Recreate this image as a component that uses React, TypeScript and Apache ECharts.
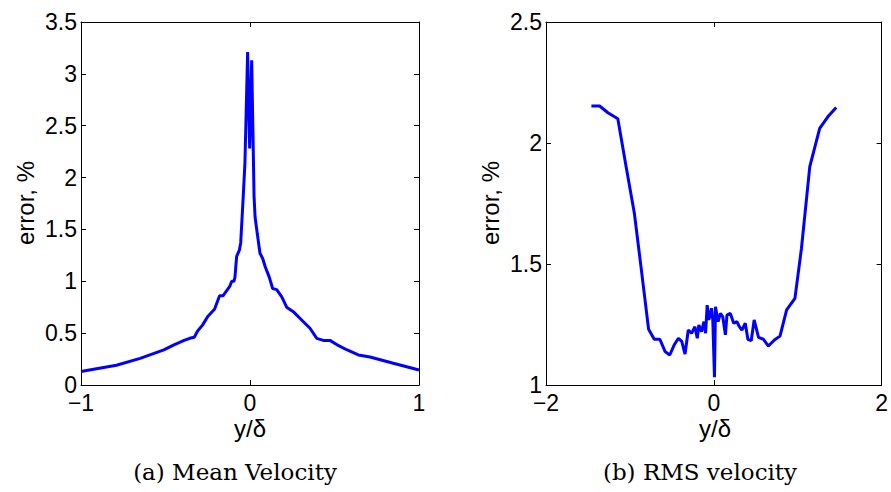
import React, { useEffect, useRef } from "react";
import * as echarts from "echarts";

// (a) Mean velocity error
const meanX = [-1.0, -0.9, -0.79, -0.65, -0.51, -0.45, -0.39, -0.357, -0.33, -0.31, -0.28, -0.25, -0.21, -0.18, -0.16, -0.12, -0.108, -0.095, -0.089, -0.079, -0.063, -0.055, -0.04, -0.03, -0.014, -0.002, 0.01, 0.024, 0.03, 0.043, 0.059, 0.075, 0.09, 0.114, 0.134, 0.158, 0.188, 0.217, 0.256, 0.316, 0.355, 0.395, 0.434, 0.473, 0.513, 0.572, 0.641, 0.71, 0.848, 1.0];
const meanY = [0.13, 0.16, 0.19, 0.257, 0.338, 0.386, 0.43, 0.45, 0.46, 0.52, 0.58, 0.66, 0.73, 0.86, 0.86, 0.95, 1.0, 1.0, 1.04, 1.24, 1.3, 1.37, 1.82, 2.14, 3.21, 2.28, 3.13, 1.82, 1.62, 1.46, 1.27, 1.22, 1.14, 1.04, 0.93, 0.92, 0.85, 0.75, 0.707, 0.61, 0.547, 0.45, 0.43, 0.43, 0.39, 0.34, 0.29, 0.27, 0.21, 0.145];

// (b) RMS velocity error
const rmsX = [-1.459, -1.361, -1.262, -1.144, -1.045, -0.947, -0.868, -0.777, -0.71, -0.643, -0.58, -0.525, -0.473, -0.422, -0.382, -0.343, -0.304, -0.264, -0.225, -0.197, -0.178, -0.146, -0.118, -0.098, -0.079, -0.059, -0.027, -0.012, 0.008, 0.02, 0.051, 0.079, 0.107, 0.138, 0.157, 0.197, 0.237, 0.276, 0.304, 0.335, 0.375, 0.406, 0.446, 0.481, 0.533, 0.592, 0.651, 0.722, 0.789, 0.868, 0.967, 1.045, 1.144, 1.262, 1.361, 1.459];
const rmsY = [2.153, 2.153, 2.125, 2.1, 1.902, 1.71, 1.489, 1.23, 1.189, 1.189, 1.138, 1.124, 1.165, 1.193, 1.18, 1.128, 1.227, 1.214, 1.241, 1.193, 1.248, 1.22, 1.262, 1.214, 1.33, 1.269, 1.317, 1.269, 1.032, 1.323, 1.262, 1.296, 1.282, 1.207, 1.289, 1.296, 1.255, 1.262, 1.241, 1.227, 1.255, 1.189, 1.183, 1.269, 1.197, 1.189, 1.161, 1.186, 1.202, 1.31, 1.358, 1.565, 1.902, 2.06, 2.109, 2.147];

const captionA = "(a) Mean Velocity";
const captionB = "(b) RMS velocity";
const xName = "y/δ";
const yName = "error, %";

const fmt = (v: number) => (v < 0 ? "\u2212" + String(-v) : String(v));

export default function App() {
  const ref = useRef<HTMLDivElement>(null);
  useEffect(() => {
    if (!ref.current) return;
    const chart = echarts.init(ref.current, null, { renderer: "svg" });
    const font = "'Liberation Sans', Arial, sans-serif";
    const axisLine = { show: true, onZero: false, lineStyle: { color: "#000", width: 1 } };
    const tick = { show: true, inside: true, length: 5, lineStyle: { color: "#000" } };
    const label = { show: true, color: "#000", fontFamily: font, fontSize: 23, formatter: fmt };
    const mkX = (gi: number, min: number, max: number, interval: number, pos: string, showLabel: boolean) => ({
      type: "value", gridIndex: gi, min, max, interval, position: pos,
      axisLine, axisTick: tick, splitLine: { show: false },
      axisLabel: showLabel ? { ...label, margin: 6 } : { show: false },
    });
    const mkY = (gi: number, min: number, max: number, interval: number, pos: string, showLabel: boolean) => ({
      type: "value", gridIndex: gi, min, max, interval, position: pos,
      axisLine, axisTick: tick, splitLine: { show: false },
      axisLabel: showLabel ? { ...label, margin: 4 } : { show: false },
    });
    const meanData = meanX.map((x, i) => [x, meanY[i]]);
    const rmsData = rmsX.map((x, i) => [x, rmsY[i]]);
    const nameFont = `24px ${font}`;
    const capFont = `23px 'DejaVu Serif', serif`;
    chart.setOption({
      animation: false,
      backgroundColor: "#fff",
      grid: [
        { left: 81, top: 22, width: 338, height: 363 },
        { left: 546, top: 22, width: 338, height: 363 },
      ],
      xAxis: [
        mkX(0, -1, 1, 1, "bottom", true),
        mkX(0, -1, 1, 1, "top", false),
        mkX(1, -2, 2, 2, "bottom", true),
        mkX(1, -2, 2, 2, "top", false),
      ],
      yAxis: [
        mkY(0, 0, 3.5, 0.5, "left", true),
        mkY(0, 0, 3.5, 0.5, "right", false),
        mkY(1, 1, 2.5, 0.5, "left", true),
        mkY(1, 1, 2.5, 0.5, "right", false),
      ],
      series: [
        {
          type: "line", xAxisIndex: 0, yAxisIndex: 0, data: meanData,
          showSymbol: false, lineStyle: { color: "#0000ff", width: 3 }, clip: true,
        },
        {
          type: "line", xAxisIndex: 2, yAxisIndex: 2, data: rmsData,
          showSymbol: false, lineStyle: { color: "#0000ff", width: 3 }, clip: true,
        },
      ],
      graphic: [
        { type: "text", x: 250, y: 428, style: { text: xName, font: nameFont, fill: "#000", align: "center", verticalAlign: "middle" } },
        { type: "text", x: 715, y: 428, style: { text: xName, font: nameFont, fill: "#000", align: "center", verticalAlign: "middle" } },
        { type: "text", x: 25, y: 203, rotation: Math.PI / 2, style: { text: yName, font: nameFont, fill: "#000", align: "center", verticalAlign: "middle" } },
        { type: "text", x: 490, y: 203, rotation: Math.PI / 2, style: { text: yName, font: nameFont, fill: "#000", align: "center", verticalAlign: "middle" } },
        { type: "text", x: 235, y: 472, style: { text: captionA, font: capFont, fill: "#000", align: "center", verticalAlign: "middle" } },
        { type: "text", x: 700, y: 472, style: { text: captionB, font: capFont, fill: "#000", align: "center", verticalAlign: "middle" } },
      ],
    });
    return () => chart.dispose();
  }, []);
  return <div ref={ref} style={{ position: "absolute", left: 0, top: 0, width: 891, height: 492 }} />;
}
